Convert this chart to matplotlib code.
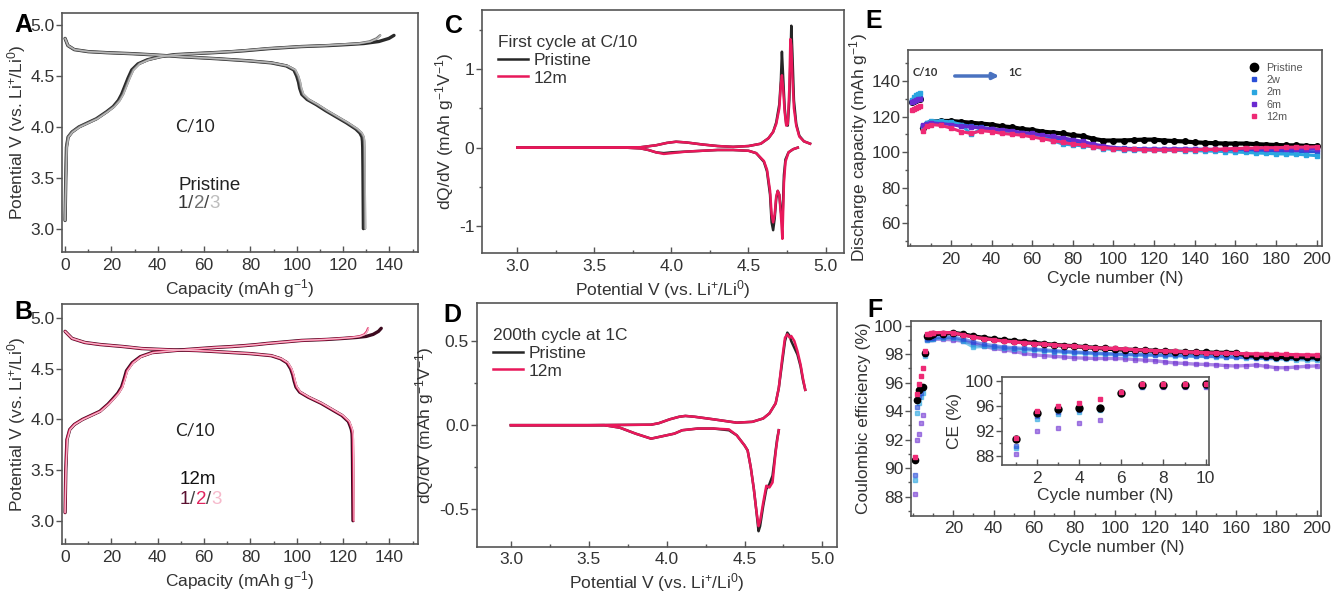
import matplotlib
matplotlib.use('Agg')
import matplotlib.pyplot as plt
from matplotlib.lines import Line2D
from matplotlib.patches import FancyArrowPatch
from matplotlib.text import Annotation
from matplotlib.ticker import MultipleLocator, FormatStrFormatter

plt.rcParams['font.family'] = ['Liberation Sans', 'DejaVu Sans']
plt.rcParams['mathtext.fontset'] = 'custom'
plt.rcParams['mathtext.rm'] = 'Liberation Sans'
plt.rcParams['mathtext.it'] = 'Liberation Sans:italic'
plt.rcParams['axes.unicode_minus'] = False

# ---- A / B: voltage profiles (capacity in mAh/g) ----
ch_v = [3.08, 3.50, 3.80, 3.90, 3.95, 4.00, 4.08, 4.15, 4.20, 4.26, 4.32, 4.40, 4.48, 4.56, 4.62, 4.66,
        4.69, 4.71, 4.72, 4.73, 4.74, 4.75, 4.76, 4.77, 4.78, 4.79, 4.80, 4.81, 4.82, 4.84, 4.87, 4.90]
dis_v = [4.87, 4.80, 4.76, 4.74, 4.73, 4.72, 4.71, 4.70, 4.69, 4.68, 4.67, 4.66, 4.65, 4.63, 4.60, 4.56,
         4.50, 4.44, 4.38, 4.32, 4.27, 4.22, 4.16, 4.10, 4.04, 3.98, 3.94, 3.90, 3.86, 3.80, 3.60, 3.30, 3.00]

a_ch1 = [0, 0.3, 0.6, 1.3, 3, 6, 13.5, 18, 20.8, 23, 24.4, 25.8, 27.2, 28.8, 31.5, 35.5,
         41, 47, 55, 64, 72, 78, 83, 88, 95, 102, 114, 122, 129, 135.5, 139.8, 142]
a_ch2 = [0, 0.3, 0.6, 1.3, 3, 6.2, 13.8, 18.3, 21.2, 23.5, 25, 26.4, 27.8, 29.4, 32, 36,
         41.5, 47.5, 55, 63.5, 71, 77, 82, 87, 94, 101, 112, 119, 126.5, 131.5, 134.5, 136]
a_ch3 = [0, 0.4, 0.8, 1.5, 3.3, 6.5, 14, 18.5, 21.4, 23.7, 25.2, 26.6, 28, 29.6, 32.2, 36.2,
         41.5, 47.5, 55, 63.5, 71, 77, 82, 87, 94, 101, 112, 119.5, 127, 132, 134.8, 136.2]
a_dis1 = [0, 1.2, 4, 10, 18, 29, 37, 44, 50, 58, 66, 72.5, 79, 89, 95.5, 98.8,
          100.0, 100.8, 101.3, 102.2, 104.5, 108.4, 112.5, 117, 121.5, 125.5, 127.3, 128.2, 128.4, 128.5, 128.6, 128.7, 128.8]
a_dis2 = [0, 1.2, 4, 10, 18, 29, 37.3, 44.3, 50.3, 58.3, 66.3, 72.8, 79.3, 89.3, 96, 99.3,
          100.6, 101.4, 101.9, 102.8, 105.1, 109, 113.1, 117.6, 122.1, 126.1, 128, 128.9, 129.1, 129.2, 129.3, 129.4, 129.5]
a_dis3 = [0, 1.3, 4.2, 10.2, 18.2, 29.2, 37.5, 44.5, 50.5, 58.5, 66.5, 73, 79.5, 89.5, 96.2, 99.5,
          100.8, 101.6, 102.1, 103, 105.3, 109.2, 113.3, 117.8, 122.3, 126.3, 128.2, 129.1, 129.3, 129.4, 129.5, 129.6, 129.7]

b_ch1 = [0, 0.3, 0.8, 2, 4, 7.5, 15, 18.5, 20.5, 22.8, 24.4, 25.5, 26.5, 29, 32.5, 37.5,
         52, 64, 72, 78, 83, 87, 92, 97, 102, 113, 120, 126, 130, 133, 135.3, 136.5]
b_ch2 = [0, 0.3, 0.8, 2, 4, 7.6, 15.2, 18.7, 20.8, 23.1, 24.7, 25.8, 26.8, 29.3, 32.8, 37.8,
         52, 64, 72, 78, 83, 87, 92, 97, 102, 112, 119, 124, 127, 129.2, 130.3, 130.8]
b_ch3 = [0, 0.4, 1, 2.2, 4.2, 7.8, 15.4, 18.9, 21, 23.3, 24.9, 26, 27, 29.5, 33, 38,
         52, 64, 72, 78, 83, 87, 92, 97, 102, 112, 119, 124.3, 127.3, 129.5, 130.5, 131]
b_dis1 = [0, 3, 8.5, 15, 20, 25, 29, 33, 43, 57, 65, 72.5, 80, 89, 93, 95.8,
          97.4, 98.3, 98.9, 99.7, 101.3, 105, 110.5, 115, 119.5, 122.3, 123, 123.6, 123.9, 124.0, 124.1, 124.2, 124.3]
b_dis2 = [0, 3, 8.5, 15, 20, 25, 29.2, 33.2, 43.2, 57.2, 65.2, 72.7, 80.2, 89.2, 93.3, 96.1,
          97.7, 98.6, 99.2, 100, 101.6, 105.3, 110.8, 115.3, 119.8, 122.6, 123.3, 123.9, 124.2, 124.3, 124.4, 124.5, 124.6]
b_dis3 = [0, 3.1, 8.7, 15.2, 20.2, 25.2, 29.4, 33.4, 43.4, 57.4, 65.4, 72.9, 80.4, 89.4, 93.5, 96.3,
          97.9, 98.8, 99.4, 100.2, 101.8, 105.5, 111, 115.5, 120, 122.8, 123.5, 124.1, 124.4, 124.5, 124.6, 124.7, 124.8]

# ---- C: dQ/dV, first cycle at C/10 ----
c_ch_v = [3.00, 3.50, 3.80, 3.90, 3.97, 4.03, 4.10, 4.20, 4.30, 4.40, 4.50, 4.58, 4.63, 4.66, 4.68,
          4.70, 4.71, 4.717, 4.725, 4.735, 4.745, 4.755, 4.765, 4.772, 4.778, 4.785, 4.795, 4.81, 4.83, 4.86, 4.90]
c_ch_pristine = [0, 0, 0.005, 0.03, 0.06, 0.075, 0.065, 0.04, 0.02, 0.01, 0.02, 0.05, 0.12, 0.2, 0.32,
                 0.55, 0.85, 1.22, 0.9, 0.5, 0.3, 0.28, 0.6, 1.1, 1.55, 1.2, 0.6, 0.3, 0.15, 0.08, 0.05]
c_ch_12m = [0, 0, 0.005, 0.03, 0.06, 0.075, 0.065, 0.04, 0.02, 0.01, 0.02, 0.05, 0.12, 0.2, 0.3,
            0.5, 0.8, 0.92, 0.75, 0.45, 0.28, 0.3, 0.75, 1.38, 1.3, 0.9, 0.5, 0.28, 0.14, 0.08, 0.05]
c_dis_v = [4.82, 4.79, 4.76, 4.74, 4.73, 4.72, 4.71, 4.70, 4.69, 4.68, 4.67, 4.66, 4.65, 4.64, 4.62,
           4.60, 4.55, 4.50, 4.40, 4.30, 4.20, 4.10, 4.00, 3.95, 3.90, 3.85, 3.80, 3.70, 3.50, 3.00]
c_dis_pristine = [0, -0.02, -0.06, -0.15, -0.35, -0.95, -0.8, -0.6, -0.55, -0.65, -0.9, -1.05, -0.95, -0.6, -0.3,
                  -0.18, -0.07, -0.04, -0.03, -0.03, -0.04, -0.05, -0.06, -0.07, -0.06, -0.03, -0.01, 0, 0, 0]
c_dis_12m = [0, -0.02, -0.06, -0.18, -0.45, -1.16, -0.85, -0.6, -0.55, -0.62, -0.85, -0.95, -0.85, -0.55, -0.28,
             -0.17, -0.07, -0.04, -0.03, -0.03, -0.04, -0.05, -0.07, -0.08, -0.06, -0.03, -0.01, 0, 0, 0]

# ---- D: dQ/dV, 200th cycle at 1C ----
d_ch_v = [3.00, 3.50, 3.90, 3.95, 4.02, 4.08, 4.12, 4.18, 4.30, 4.45, 4.55, 4.62, 4.66, 4.70, 4.72,
          4.74, 4.76, 4.775, 4.79, 4.80, 4.82, 4.84, 4.86, 4.875, 4.89]
d_ch_pristine = [0, 0, 0.003, 0.012, 0.035, 0.05, 0.055, 0.05, 0.035, 0.015, 0.02, 0.04, 0.07, 0.13, 0.22,
                 0.36, 0.5, 0.55, 0.53, 0.5, 0.46, 0.42, 0.35, 0.27, 0.21]
d_ch_12m = [0, 0, 0.003, 0.012, 0.035, 0.05, 0.055, 0.05, 0.035, 0.015, 0.02, 0.04, 0.07, 0.13, 0.22,
            0.38, 0.52, 0.54, 0.52, 0.53, 0.5, 0.44, 0.36, 0.28, 0.21]
d_dis_v = [4.72, 4.71, 4.70, 4.68, 4.66, 4.64, 4.62, 4.60, 4.59, 4.575, 4.56, 4.54, 4.52, 4.50, 4.45,
           4.40, 4.30, 4.20, 4.10, 4.05, 3.95, 3.90, 3.80, 3.70, 3.60, 3.00]
d_dis_pristine = [-0.03, -0.08, -0.15, -0.3, -0.35, -0.38, -0.48, -0.6, -0.63, -0.5, -0.38, -0.25, -0.15, -0.12, -0.06,
                  -0.03, -0.02, -0.02, -0.03, -0.05, -0.07, -0.08, -0.05, -0.015, 0, 0]
d_dis_12m = [-0.03, -0.09, -0.16, -0.34, -0.37, -0.36, -0.46, -0.57, -0.6, -0.5, -0.38, -0.25, -0.15, -0.12, -0.06,
             -0.025, -0.02, -0.02, -0.03, -0.05, -0.07, -0.08, -0.05, -0.015, 0, 0]

# ---- E: discharge capacity vs cycle ----
cyc_c10 = [1, 2, 3, 4, 5]
cap_c10 = {
    'Pristine': [128, 128.8, 129.3, 129.6, 129.8],
    '2w': [128.5, 129.5, 130, 130.3, 130.5],
    '2m': [129.5, 131, 132, 132.5, 133],
    '6m': [128.3, 129, 129.5, 129.8, 130],
    '12m': [123.5, 124.5, 125, 125.5, 126],
}
cyc_1c = [6, 8, 10, 15, 20, 25, 30, 35, 40, 45, 50, 55, 60, 65, 70, 75, 80, 85, 90, 95, 100,
          105, 110, 115, 120, 125, 130, 135, 140, 145, 150, 155, 160, 165, 170, 175, 180, 185, 190, 195, 200]
cap_pristine = [113.5, 116, 117, 117.5, 117.5, 117, 116.5, 116, 115.5, 114.5, 114, 113, 112.5, 111.5, 111, 110.5,
                109.5, 109, 107.5, 106.5, 106.5, 106.5, 106.8, 107, 107, 106.5, 106.2, 106, 105.5, 105.2, 105,
                104.8, 104.8, 104.8, 104.5, 104.2, 104, 103.8, 103.8, 103.5, 103.3]
cap_2w = [114.5, 116.5, 117, 117, 116.5, 115.5, 114.5, 114, 113, 112, 111.5, 110.5, 109.5, 108.5, 108, 107,
          106, 105, 104, 103, 102.5, 102.2, 102, 101.8, 101.8, 101.7, 101.8, 101.8, 101.7, 101.6, 101.5,
          101.2, 101, 101, 100.8, 100.7, 100.5, 100.4, 100.3, 100.3, 100.2]
cap_2m = [114, 116.5, 117.5, 117.5, 117, 115.5, 110, 113, 112.5, 111.5, 111, 110, 109, 108, 106.5, 104.5,
          104, 103.5, 103, 102, 101.5, 101.3, 101.2, 101.2, 101, 101, 101, 100.8, 100.8, 100.6, 100.5,
          100.3, 100, 99.8, 99.5, 99.3, 99, 98.9, 98.8, 98.4, 98.0]
cap_6m = [115, 116, 116.5, 116, 115.5, 114.5, 114, 113.5, 113, 112.5, 112, 111, 110.5, 109.5, 109, 108,
          107, 106, 104.5, 103.5, 102.5, 102, 101.8, 101.5, 101.5, 101.5, 101.8, 101.5, 101.5, 101.5, 101.5,
          101.5, 101.8, 102, 102, 102, 102, 102, 102, 102, 102]
cap_12m = [112, 114.5, 115.5, 115, 113.5, 111.5, 110.5, 112, 111.5, 110.5, 110, 109.5, 108.5, 107.5, 106.5, 105.5,
           104.5, 104, 103, 102.5, 102, 101.8, 101.5, 101.3, 101.2, 101.2, 101.2, 101.3, 101.3, 101.5, 101.5,
           101.8, 102, 102.2, 102.3, 102.5, 102.5, 102.7, 102.8, 102.8, 103]

# ---- F: coulombic efficiency vs cycle ----
cyc_f = [1, 2, 3, 4, 5, 6, 7, 8, 9, 10, 15, 20, 25, 30, 35, 40, 45, 50, 55, 60, 65, 70, 75, 80, 85, 90, 95, 100,
         105, 110, 115, 120, 125, 130, 135, 140, 145, 150, 155, 160, 165, 170, 175, 180, 185, 190, 195, 200]
ce_pristine = [90.6, 94.8, 95.5, 95.7, 95.7, 98.1, 99.3, 99.3, 99.35, 99.4, 99.45, 99.5, 99.4, 99.25, 99.15, 99.05,
               98.98, 98.92, 98.86, 98.8, 98.72, 98.66, 98.6, 98.56, 98.5, 98.45, 98.4, 98.35, 98.32, 98.3, 98.27,
               98.24, 98.2, 98.18, 98.15, 98.13, 98.12, 98.1, 98.1, 98.08, 97.92, 97.88, 97.85, 97.82, 97.8, 97.8,
               97.78, 97.78]
ce_2w = [89.5, 94.3, 95.0, 95.3, 95.6, 98.0, 99.1, 99.15, 99.15, 99.15, 99.2, 99.2, 99.05, 98.85, 98.7, 98.6,
         98.5, 98.45, 98.4, 98.35, 98.3, 98.25, 98.2, 98.15, 98.12, 98.08, 98.05, 98.02, 98.0, 97.98, 97.96,
         97.95, 97.93, 97.92, 97.9, 97.88, 97.86, 97.85, 97.83, 97.8, 97.78, 97.76, 97.74, 97.72, 97.7, 97.7,
         97.7, 97.7]
ce_2m = [89.2, 93.9, 94.6, 95.0, 95.3, 97.9, 99.0, 99.1, 99.1, 99.1, 99.12, 99.15, 98.9, 98.5, 98.55, 98.5,
         98.42, 98.36, 98.3, 98.28, 98.22, 98.18, 98.14, 98.1, 98.06, 98.03, 98.0, 97.98, 97.96, 97.94, 97.93,
         97.92, 97.9, 97.88, 97.86, 97.85, 97.84, 97.82, 97.8, 97.78, 97.75, 97.72, 97.7, 97.68, 97.65, 97.62,
         97.6, 97.6]
ce_6m = [88.2, 92.0, 92.4, 93.2, 93.7, 98.0, 99.0, 99.05, 99.05, 99.05, 99.05, 99.0, 98.9, 98.75, 98.55, 98.4,
         98.3, 98.2, 98.05, 97.95, 97.9, 97.85, 97.8, 97.75, 97.72, 97.7, 97.7, 97.7, 97.68, 97.62, 97.58,
         97.54, 97.45, 97.38, 97.35, 97.3, 97.28, 97.25, 97.2, 97.17, 97.2, 97.24, 97.15, 97.05, 97.05, 97.1,
         97.15, 97.18]
ce_12m = [90.8, 95.2, 95.9, 96.5, 97.0, 98.2, 99.4, 99.45, 99.48, 99.5, 99.52, 99.5, 99.35, 99.2, 99.1, 99.0,
          98.92, 98.86, 98.8, 98.75, 98.7, 98.65, 98.6, 98.56, 98.5, 98.45, 98.42, 98.4, 98.35, 98.32, 98.28,
          98.25, 98.22, 98.2, 98.16, 98.13, 98.1, 98.08, 98.06, 98.05, 98.03, 98.02, 98.0, 98.0, 97.98, 97.96,
          97.95, 97.94]

W, H = 1332, 593
SPINE = '#555555'
TXT = '#333333'
BLACK = '#262626'
PINK = '#e8185a'
COLORS = {'Pristine': 'black', '2w': '#2a4fd8', '2m': '#2aa6e0', '6m': '#6a2ad0', '12m': '#ee2a75'}
FS = 12.5

cap_label = 'Capacity (mAh g$^{-1}$)'
pot_label = 'Potential V (vs. Li$^{+}$/Li$^{0}$)'
dq_label = 'dQ/dV (mAh g$^{-1}$V$^{-1}$)'


def box(l, t, r, b):
    # pixel edges -> figure fraction rect
    return [l / W, 1 - b / H, (r - l) / W, (b - t) / H]


def style(ax):
    for s in ax.spines.values():
        s.set_color(SPINE)
        s.set_linewidth(1.2)
    ax.tick_params(axis='x', which='both', direction='in', top=False, colors=SPINE,
                   labelcolor=TXT, labelsize=FS, pad=4)
    ax.tick_params(axis='y', which='both', direction='out', right=False, colors=SPINE,
                   labelcolor=TXT, labelsize=FS, pad=1.5)
    ax.tick_params(which='major', length=4, width=1)
    ax.tick_params(which='minor', length=2.5, width=1)


def ftext(px, py, s, **kw):
    return fig.text(px / W, 1 - py / H, s, **kw)


def colored_run(px, py, parts, size):
    # consecutive characters with their own colours, e.g. 1/2/3
    t = ftext(px, py, parts[0][0], color=parts[0][1], fontsize=size, va='baseline')
    for s, c in parts[1:]:
        t = fig.add_artist(Annotation(s, xy=(1, 0), xycoords=t, va='bottom', ha='left',
                                      color=c, fontsize=size))
    return t


fig = plt.figure(figsize=(W / 100, H / 100), dpi=100)


def voltage_panel(rect, ylim, curves):
    ax = fig.add_axes(rect)
    for cap, v, c, lw in curves:
        ax.plot(cap, v, color=c, lw=lw, solid_capstyle='round')
    ax.set_xlim(-1.2, 152.5)
    ax.set_ylim(*ylim)
    ax.xaxis.set_major_locator(MultipleLocator(20))
    ax.xaxis.set_minor_locator(MultipleLocator(10))
    ax.yaxis.set_major_locator(MultipleLocator(0.5))
    ax.set_xlabel(cap_label, fontsize=FS, color=TXT, labelpad=3)
    ax.set_ylabel(pot_label, fontsize=FS, color=TXT, labelpad=2)
    style(ax)
    return ax


# A: pristine, cycles 1/2/3 (first cycle widest, later ones laid over it)
ax_a = voltage_panel(box(62.3, 13, 418.3, 252), (2.77, 5.12),
                     [(a_ch1, ch_v, '#2a2a2a', 2.4), (a_dis1, dis_v, '#2a2a2a', 2.4),
                      (a_ch2, ch_v, '#6e6e6e', 1.8), (a_dis2, dis_v, '#6e6e6e', 1.8),
                      (a_ch3, ch_v, '#b8b8b8', 1.1), (a_dis3, dis_v, '#b8b8b8', 1.1)])
# B: 12m, cycles 1/2/3
ax_b = voltage_panel(box(62.3, 304, 418.3, 544), (2.77, 5.14),
                     [(b_ch1, ch_v, '#3d0a1f', 2.4), (b_dis1, dis_v, '#3d0a1f', 2.4),
                      (b_ch2, ch_v, '#e0245e', 1.6), (b_dis2, dis_v, '#e0245e', 1.6),
                      (b_ch3, ch_v, '#f6b9cb', 1.0), (b_dis3, dis_v, '#f6b9cb', 1.0)])

ftext(175, 127, 'C/10', fontsize=12.5, family=['Lato', 'DejaVu Sans'], color='#222222', va='center')
ftext(178, 185, 'Pristine', fontsize=13.5, color='#222222', va='center')
colored_run(178, 208, [('1', '#333333'), ('/', '#444444'), ('2', '#707070'), ('/', '#444444'),
                       ('3', '#bdbdbd')], 13.5)

ftext(175, 430, 'C/10', fontsize=12.5, family=['Lato', 'DejaVu Sans'], color='#222222', va='center')
ftext(180, 480, '12m', fontsize=13.5, color='#111111', va='center')
colored_run(180, 504, [('1', '#5a1030'), ('/', '#444444'), ('2', '#e0245e'), ('/', '#444444'),
                       ('3', '#f6b9cb')], 13.5)


def dq_panel(rect, xlim, ylim, ymaj, lines, title, leg_anchor):
    ax = fig.add_axes(rect)
    for v, y, c in lines:
        ax.plot(v, y, color=c, lw=1.8)
    ax.set_xlim(*xlim)
    ax.set_ylim(*ylim)
    ax.xaxis.set_major_locator(MultipleLocator(0.5))
    ax.xaxis.set_minor_locator(MultipleLocator(0.25))
    ax.yaxis.set_major_locator(MultipleLocator(ymaj))
    ax.yaxis.set_minor_locator(MultipleLocator(ymaj / 2))
    ax.set_xlabel(pot_label, fontsize=FS, color=TXT, labelpad=3)
    ax.set_ylabel(dq_label, fontsize=FS, color=TXT, labelpad=2)
    style(ax)
    h = [Line2D([], [], color=BLACK, lw=1.8), Line2D([], [], color=PINK, lw=1.8)]
    leg = ax.legend(h, ['Pristine', '12m'], title=title, loc='upper left', bbox_to_anchor=leg_anchor,
                    frameon=False, fontsize=FS, title_fontsize=FS, borderpad=0, borderaxespad=0,
                    handlelength=1.7, handletextpad=0.35, labelspacing=0.15, alignment='left')
    for t in leg.get_texts():
        t.set_color(TXT)
    leg.get_title().set_color(TXT)
    return ax


ax_c = dq_panel(box(482, 10, 844, 253), (2.77, 5.12), (-1.34, 1.75), 1,
                [(c_ch_v, c_ch_pristine, BLACK), (c_dis_v, c_dis_pristine, BLACK),
                 (c_ch_v, c_ch_12m, PINK), (c_dis_v, c_dis_12m, PINK)],
                'First cycle at C/10', ((498 - 482) / 362, (253 - 35) / 243))
ax_d = dq_panel(box(476.7, 303, 837, 546.7), (2.78, 5.094), (-0.722, 0.726), 0.5,
                [(d_ch_v, d_ch_pristine, BLACK), (d_dis_v, d_dis_pristine, BLACK),
                 (d_ch_v, d_ch_12m, PINK), (d_dis_v, d_dis_12m, PINK)],
                '200th cycle at 1C', ((493 - 476.7) / 360.3, (546.7 - 328) / 243.7))
ax_d.yaxis.set_major_formatter(FormatStrFormatter('%.1f'))

# E: discharge capacity
ax_e = fig.add_axes(box(908.3, 50, 1322.3, 246))
order = ['Pristine', '2w', '2m', '6m', '12m']
series_1c = {'Pristine': cap_pristine, '2w': cap_2w, '2m': cap_2m, '6m': cap_6m, '12m': cap_12m}
for name in order:
    c = COLORS[name]
    if name == 'Pristine':
        kw = dict(marker='o', ms=4.0, lw=3.0)
    else:
        kw = dict(marker='s', ms=2.5, lw=2.2)
    ax_e.plot(cyc_c10, cap_c10[name], color=c, **kw)
    ax_e.plot(cyc_1c, series_1c[name], color=c, **kw)
ax_e.set_xlim(-1, 202.8)
ax_e.set_ylim(47.2, 157.4)
ax_e.set_xticks(range(20, 201, 20))
ax_e.xaxis.set_minor_locator(MultipleLocator(10))
ax_e.yaxis.set_major_locator(MultipleLocator(20))
ax_e.yaxis.set_minor_locator(MultipleLocator(10))
ax_e.set_xlabel('Cycle number (N)', fontsize=FS, color=TXT, labelpad=3)
ax_e.set_ylabel('Discharge capacity (mAh g$^{-1}$)', fontsize=FS, color=TXT, labelpad=1)
style(ax_e)
leg_h = [Line2D([], [], ls='none', marker='o', ms=6, color='black')] + \
        [Line2D([], [], ls='none', marker='s', ms=3.5, color=COLORS[n]) for n in order[1:]]
leg_e = ax_e.legend(leg_h, order, loc='upper left', bbox_to_anchor=((1249 - 908.3) / 414, (246 - 63) / 196),
                    frameon=False, fontsize=7.8, borderpad=0, borderaxespad=0, handlelength=1.0,
                    handletextpad=0.6, labelspacing=0.2)
for t in leg_e.get_texts():
    t.set_color('#555555')
ftext(913, 72, 'C/10', fontsize=8, fontweight='bold', family=['Lato', 'DejaVu Sans'], color='#333333', va='center')
ftext(1008, 72, '1C', fontsize=8, fontweight='bold', family=['Lato', 'DejaVu Sans'], color='#333333', va='center')
fig.add_artist(FancyArrowPatch((952 / W, 1 - 76 / H), (1002 / W, 1 - 76 / H),
                               transform=fig.transFigure, arrowstyle='-|>',
                               mutation_scale=9, color='#4a72c0', lw=2.5))

# F: coulombic efficiency
ax_f = fig.add_axes(box(910.7, 320.7, 1320.7, 515.7))
series_ce = {'Pristine': ce_pristine, '2w': ce_2w, '2m': ce_2m, '6m': ce_6m, '12m': ce_12m}
f_alpha = {'Pristine': 1, '2w': 0.6, '2m': 0.6, '6m': 0.55, '12m': 1}
for name in ['6m', '2m', '2w', 'Pristine', '12m']:
    c = COLORS[name]
    if name == 'Pristine':
        mk = dict(marker='o', ms=4.5)
        lw = 3.0
    else:
        mk = dict(marker='s', ms=2.5)
        lw = 2.4
    ax_f.plot(cyc_f[:6], series_ce[name][:6], ls='none', color=c, alpha=f_alpha[name], **mk)
    ax_f.plot(cyc_f[6:], series_ce[name][6:], color=c, lw=lw, alpha=f_alpha[name], **mk)
ax_f.set_xlim(-1.1, 202)
ax_f.set_ylim(86.67, 100.35)
ax_f.set_xticks(range(20, 201, 20))
ax_f.xaxis.set_minor_locator(MultipleLocator(10))
ax_f.yaxis.set_major_locator(MultipleLocator(2))
ax_f.yaxis.set_minor_locator(MultipleLocator(1))
ax_f.set_xlabel('Cycle number (N)', fontsize=FS, color=TXT, labelpad=3)
ax_f.set_ylabel('Coulombic efficiency (%)', fontsize=FS, color=TXT, labelpad=2)
style(ax_f)

# inset: first 10 cycles
ax_in = fig.add_axes(box(1001.7, 377.3, 1209, 465))
for name in ['6m', '2m', '2w', 'Pristine', '12m']:
    c = COLORS[name]
    mk = dict(marker='o', ms=5) if name == 'Pristine' else dict(marker='s', ms=3)
    ax_in.plot(cyc_f[:10], series_ce[name][:10], ls='none', color=c, alpha=f_alpha[name], **mk)
ax_in.set_xlim(0.34, 10.16)
ax_in.set_ylim(86.5, 100.54)
ax_in.set_xticks([2, 4, 6, 8, 10])
ax_in.xaxis.set_minor_locator(MultipleLocator(1))
ax_in.set_yticks([88, 92, 96, 100])
ax_in.yaxis.set_minor_locator(MultipleLocator(2))
ax_in.set_xlabel('Cycle number (N)', fontsize=FS, color=TXT, labelpad=2)
ax_in.set_ylabel('CE (%)', fontsize=FS, color=TXT, labelpad=2)
style(ax_in)

# panel letters
for letter, px, py in [('A', 14, 25), ('B', 14, 312), ('C', 445, 26), ('D', 443, 315),
                       ('E', 865, 21), ('F', 867, 310)]:
    ftext(px, py, letter, fontsize=18, fontweight='bold', color='black', va='center')

fig.savefig('out.png', dpi=100)
